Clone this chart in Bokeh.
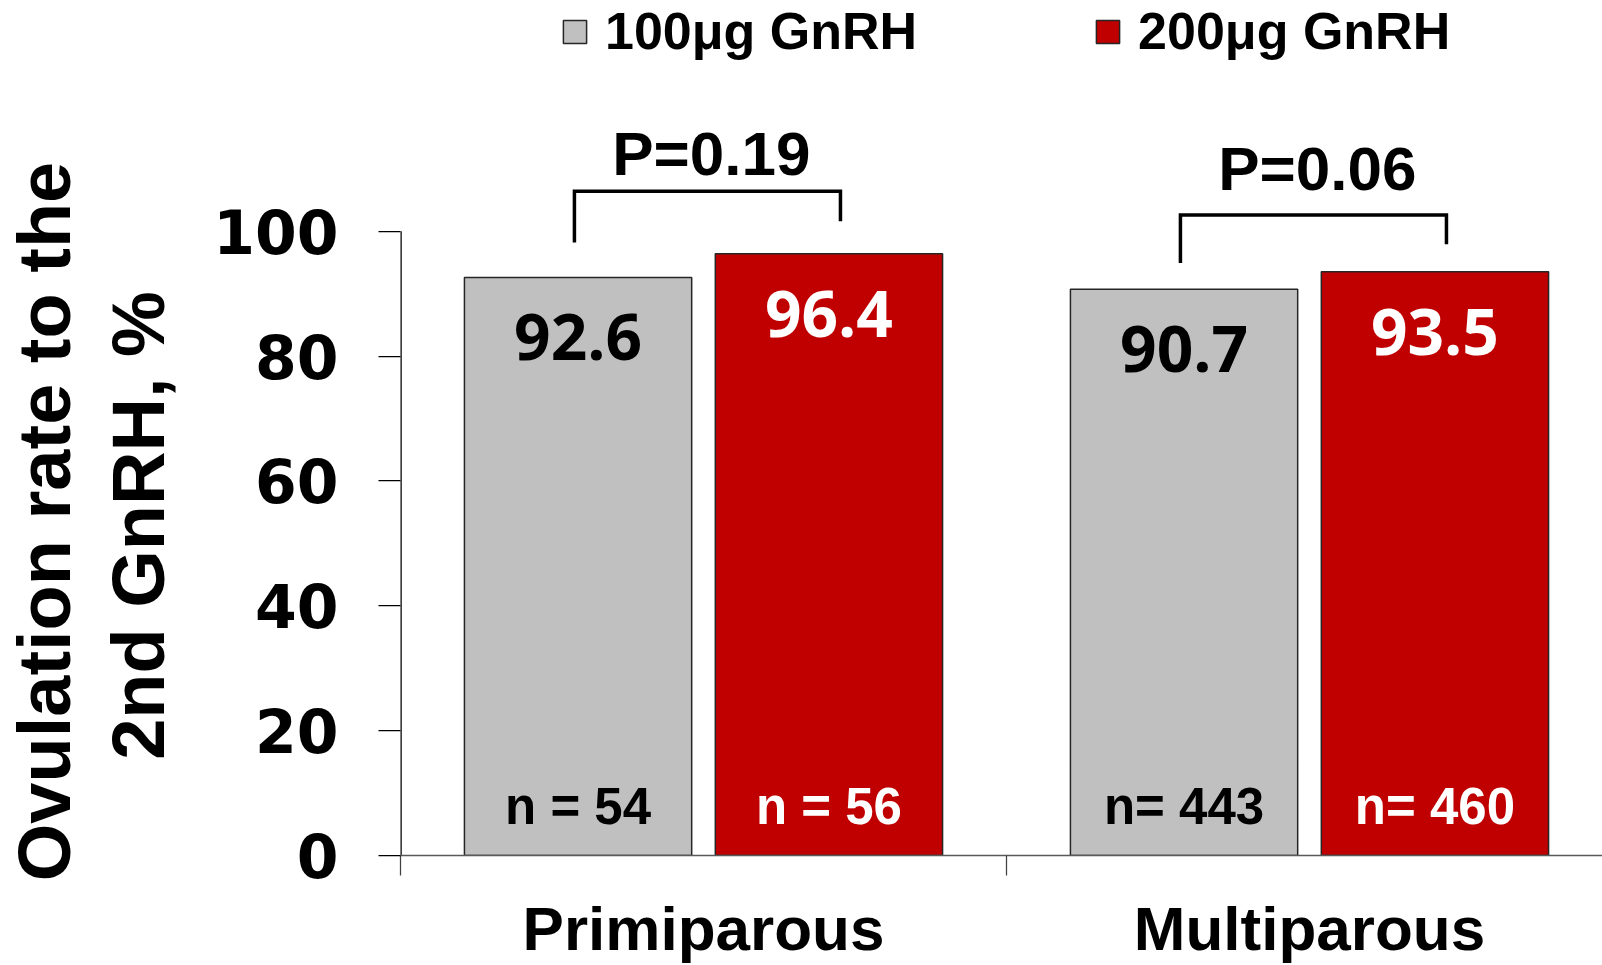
import math
from bokeh.plotting import figure
from bokeh.layouts import row
from bokeh.models import ColumnDataSource, FixedTicker, Range1d
from bokeh.core.properties import value
from bokeh.embed import file_html
from bokeh.resources import INLINE

# ---------------- data ----------------
categories = ["Primiparous", "Multiparous"]
doses = ["100μg GnRH", "200μg GnRH"]
rate_100 = [92.6, 90.7]
rate_200 = [96.4, 93.5]
n_labels_100 = ["n = 54", "n= 443"]
n_labels_200 = ["n = 56", "n= 460"]
p_labels = ["P=0.19", "P=0.06"]
bracket_top = [106.4, 102.6]
bracket_left_end = [98.2, 94.9]
bracket_right_end = [101.6, 97.9]
p_label_y = [112.5, 110.0]
y_ticks = [0, 20, 40, 60, 80, 100]
y_title_lines = ["Ovulation rate to the", "2nd GnRH, %"]

GRAY = "#C0C0C0"
RED = "#C00000"
ARIAL = "Liberation Sans"

W, H = 1602, 965
TITLE_W = 200
MAIN_W = W - TITLE_W
LEFT, BOTTOM = 200, 109
frame_w = MAIN_W - LEFT
frame_h = H - BOTTOM
px_per_cat = 606.0
px_per_pct = 6.25

# ---------------- y-axis title panel ----------------
t = figure(width=TITLE_W, height=H, output_backend="svg", toolbar_location=None,
           x_range=Range1d(0, TITLE_W), y_range=Range1d(0, H),
           x_axis_location=None, y_axis_location=None,
           min_border_left=0, min_border_right=0, min_border_top=0, min_border_bottom=0)
t.outline_line_color = None
t.xgrid.grid_line_color = None
t.ygrid.grid_line_color = None
t.text(x=[43.5, 138], y=[H - 521, H - 525], text=y_title_lines, angle=math.pi / 2,
       text_align="center", text_baseline="middle", text_font=value(ARIAL),
       text_font_size="74px", text_font_style="bold", text_color="black")

# ---------------- main chart ----------------
p = figure(width=MAIN_W, height=H, output_backend="svg", toolbar_location=None,
           x_range=Range1d(0, frame_w / px_per_cat),
           y_range=Range1d(0, frame_h / px_per_pct),
           min_border_left=LEFT, min_border_bottom=BOTTOM,
           min_border_top=0, min_border_right=0)
p.outline_line_color = None
p.xgrid.grid_line_color = None
p.ygrid.grid_line_color = None
p.background_fill_color = "white"
p.border_fill_color = "white"

# keep each figure's own frame (the title panel uses its full height)
for fig in (t, p):
    if "frame_align" in fig.properties():
        fig.frame_align = False

cat_pos = [i + 0.5 for i in range(len(categories))]
off = 0.207
bw = 0.375
x_100 = [c - off for c in cat_pos]
x_200 = [c + off for c in cat_pos]

src100 = ColumnDataSource(dict(x=x_100, top=rate_100, lab=[f"{v}" for v in rate_100],
                               n=n_labels_100, zero=[0] * len(rate_100)))
src200 = ColumnDataSource(dict(x=x_200, top=rate_200, lab=[f"{v}" for v in rate_200],
                               n=n_labels_200, zero=[0] * len(rate_200)))

p.vbar(x="x", top="top", bottom=0, width=bw, source=src100, fill_color=GRAY,
       line_color="#262626", line_width=1.5, legend_label=doses[0])
p.vbar(x="x", top="top", bottom=0, width=bw, source=src200, fill_color=RED,
       line_color="#262626", line_width=1.5, legend_label=doses[1])

# y axis line drawn only from 0 to 100
p.segment(x0=[0], y0=[y_ticks[0]], x1=[0], y1=[y_ticks[-1]], line_color="black",
          line_width=2.5)

# value labels inside bars
val_font = value("Open Sans")
p.text(x="x", y="top", text="lab", source=src100, y_offset=60, text_align="center",
       text_baseline="middle", text_font=val_font, text_font_size="64px",
       text_font_style="bold", text_color="black")
p.text(x="x", y="top", text="lab", source=src200, y_offset=60, text_align="center",
       text_baseline="middle", text_font=val_font, text_font_size="64px",
       text_font_style="bold", text_color="white")

# n labels
p.text(x="x", y="zero", text="n", source=src100, y_offset=-49, text_align="center",
       text_baseline="middle", text_font=value(ARIAL), text_font_size="51px",
       text_font_style="bold", text_color="black")
p.text(x="x", y="zero", text="n", source=src200, y_offset=-49, text_align="center",
       text_baseline="middle", text_font=value(ARIAL), text_font_size="51px",
       text_font_style="bold", text_color="white")

# significance brackets
bl, br = -0.213, 0.226
xs = [[c + bl, c + bl, c + br, c + br] for c in cat_pos]
ys = [[le, tp, tp, re] for le, tp, re in zip(bracket_left_end, bracket_top, bracket_right_end)]
p.multi_line(xs=xs, ys=ys, line_color="black", line_width=3.5, line_join="miter")
p.text(x=[c + 0.013 for c in cat_pos], y=p_label_y, text=p_labels, text_align="center",
       text_baseline="middle", text_font=value(ARIAL), text_font_size="62px",
       text_font_style="bold", text_color="black")

# y axis
ya = p.yaxis[0]
ya.ticker = FixedTicker(ticks=y_ticks)
ya.bounds = (0, 100)
ya.axis_line_color = None
ya.major_tick_line_color = "black"
ya.major_tick_line_width = 1.25
ya.major_tick_out = 22
ya.major_tick_in = 0
ya.minor_tick_line_color = None
ya.major_label_standoff = 40
ya.major_label_text_font = "DejaVu Sans"
ya.major_label_text_font_style = "bold"
ya.major_label_text_font_size = "60px"
ya.major_label_text_color = "black"

# x axis
xa = p.xaxis[0]
xa.ticker = FixedTicker(ticks=cat_pos, minor_ticks=[0, 1, 2])
xa.major_label_overrides = {c: name for c, name in zip(cat_pos, categories)}
xa.axis_line_color = "#595959"
xa.axis_line_width = 1.5
xa.major_tick_line_color = None
xa.major_tick_out = 0
xa.major_tick_in = 0
xa.minor_tick_line_color = "#404040"
xa.minor_tick_line_width = 1.25
xa.minor_tick_out = 20
xa.minor_tick_in = 0
xa.major_label_standoff = 18
xa.major_label_text_font = ARIAL
xa.major_label_text_font_style = "bold"
xa.major_label_text_font_size = "62px"
xa.major_label_text_color = "black"

# legend
lg = p.legend[0]
lg.orientation = "horizontal"
lg.location = (160, 794)
lg.glyph_width = 29
lg.glyph_height = 29
lg.label_standoff = 16
lg.spacing = 176
lg.padding = 0
lg.margin = 0
lg.label_height = 29
lg.label_text_font = ARIAL
lg.label_text_font_style = "bold"
lg.label_text_font_size = "52px"
lg.label_text_color = "black"
lg.border_line_color = None
lg.background_fill_alpha = 0

layout = row(t, p, spacing=0)
open("out.html", "w").write(file_html(layout, INLINE))
